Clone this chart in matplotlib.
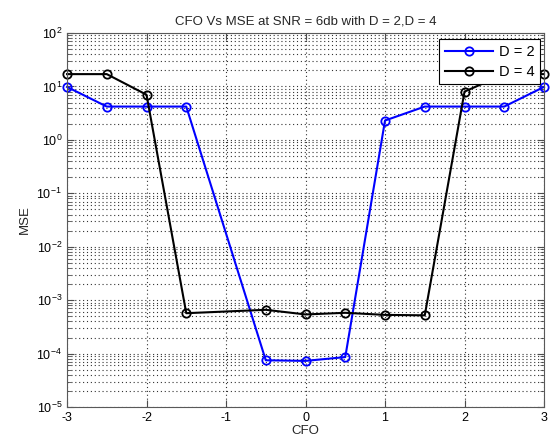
import numpy as np
import matplotlib
matplotlib.use("Agg")
import matplotlib.pyplot as plt
from matplotlib.ticker import LogLocator, NullFormatter

plt.rcParams['font.family'] = ['Liberation Sans', 'DejaVu Sans']
plt.rcParams['mathtext.fontset'] = 'custom'
plt.rcParams['mathtext.rm'] = 'Liberation Sans'
plt.rcParams['mathtext.it'] = 'Liberation Sans'

# --- data ------------------------------------------------------------------
cfo_d2 = [-3, -2.5, -2, -1.5, -0.5, 0, 0.5, 1, 1.5, 2, 2.5, 3]
mse_d2 = [9.8, 4.2, 4.2, 4.2, 7.5e-5, 7.3e-5, 8.6e-5, 2.3, 4.2, 4.2, 4.2, 9.8]

cfo_d4 = [-3, -2.5, -2, -1.5, -0.5, 0, 0.5, 1, 1.5, 2, 2.5, 3]
mse_d4 = [17, 17, 7.0, 5.7e-4, 6.6e-4, 5.4e-4, 5.8e-4, 5.3e-4, 5.2e-4, 8.0, 17, 17]

xticks = [-3, -2, -1, 0, 1, 2, 3]

# --- figure -----------------------------------------------------------------
fig = plt.figure(figsize=(5.57, 4.46), dpi=100)
ax = fig.add_axes([0.1203, 0.0874, 0.8564, 0.8386])

ax.semilogy(cfo_d2, mse_d2, '-o', color=(0, 0, 1), lw=1.5, ms=6,
            mfc='none', mew=1.3, label='D = 2', clip_on=False)
ax.semilogy(cfo_d4, mse_d4, '-o', color='black', lw=1.5, ms=6,
            mfc='none', mew=1.3, label='D = 4', clip_on=False)

ax.set_xlim(-3, 3)
ax.set_ylim(1e-5, 1e2)
ax.set_xticks(xticks)
ax.set_xticklabels([str(t) for t in xticks])
ax.yaxis.set_major_locator(LogLocator(base=10, numticks=10))
ax.yaxis.set_minor_locator(LogLocator(base=10, subs=np.arange(2, 10), numticks=100))
ax.yaxis.set_minor_formatter(NullFormatter())
ax.xaxis.get_offset_text().set_visible(False)
ax.yaxis.get_offset_text().set_visible(False)

ax.grid(True, which='major', ls=(0, (1, 2.5)), color='0.2', lw=0.8)
ax.grid(True, which='minor', axis='y', ls=(0, (1, 2.5)), color='0.2', lw=0.8)

ax.tick_params(which='both', direction='in', top=True, right=True,
               labelsize=9, color='0.3')
ax.tick_params(which='major', length=5)
ax.tick_params(which='minor', length=3)
for s in ax.spines.values():
    s.set_color('0.35')

ax.set_title('CFO Vs MSE at SNR = 6db with D = 2,D = 4', fontsize=9.5, color='0.15')
ax.set_xlabel('CFO', fontsize=9.5, color='0.15', labelpad=1)
ax.set_ylabel('MSE', fontsize=9.5, color='0.15', labelpad=4)

leg = ax.legend(loc='upper right', bbox_to_anchor=(0.992, 0.984), fontsize=10.5,
                handlelength=3.3, fancybox=False, framealpha=1,
                edgecolor='black', borderaxespad=0.0, borderpad=0.4,
                labelspacing=0.4, handletextpad=0.4)
leg.get_frame().set_linewidth(0.8)

fig.savefig('out.png', dpi=100)
